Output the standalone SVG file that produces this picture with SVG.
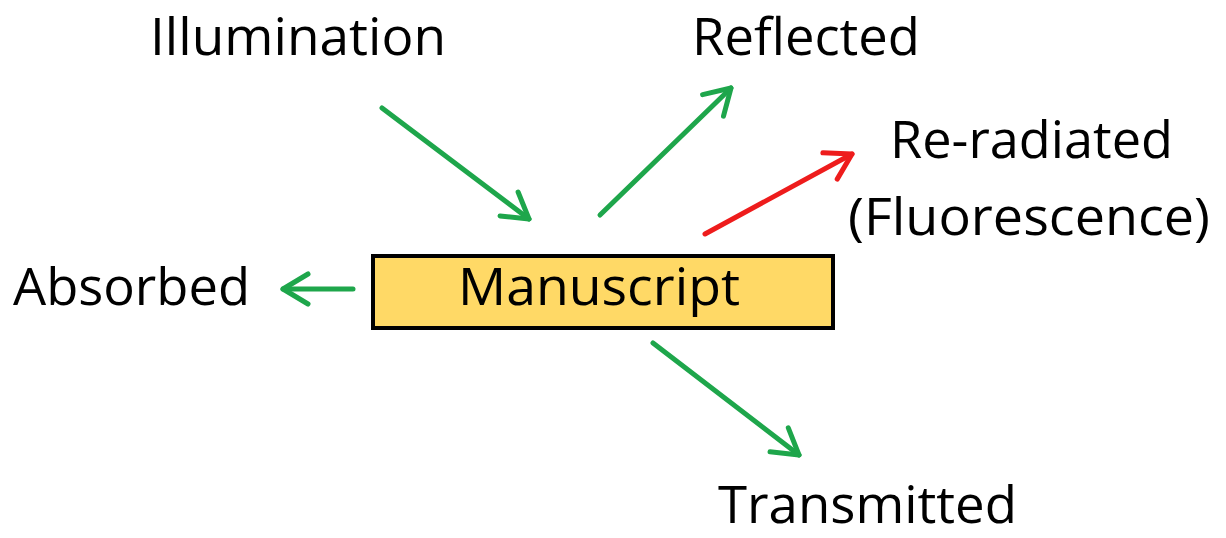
<svg xmlns="http://www.w3.org/2000/svg" width="1226" height="538" viewBox="0 0 1226 538">
  <style>
    .lbl { font-family: "Open Sans", "Noto Sans", "Liberation Sans", sans-serif; font-size: 51px; fill: #000; }
    .g { stroke: #1ea64b; stroke-width: 5; fill: none; stroke-linecap: round; }
    .r { stroke: #ee1c1c; stroke-width: 5; fill: none; stroke-linecap: round; }
  </style>
  <defs>
    <marker id="ag" markerUnits="userSpaceOnUse" markerWidth="60" markerHeight="60" refX="0" refY="0" viewBox="-40 -30 60 60" orient="auto" overflow="visible">
      <path d="M-25,-15 L0,0 L-25,15" fill="none" stroke="#1ea64b" stroke-width="5" stroke-linecap="round" stroke-linejoin="round"/>
    </marker>
    <marker id="ar" markerUnits="userSpaceOnUse" markerWidth="60" markerHeight="60" refX="0" refY="0" viewBox="-40 -30 60 60" orient="auto" overflow="visible">
      <path d="M-25,-15 L0,0 L-25,15" fill="none" stroke="#ee1c1c" stroke-width="5" stroke-linecap="round" stroke-linejoin="round"/>
    </marker>
  </defs>
  <rect width="1226" height="538" fill="#ffffff"/>

  <g id="connectors">
    <line class="g" x1="382" y1="108" x2="529" y2="219" marker-end="url(#ag)"/>
    <line class="g" x1="600" y1="215" x2="731" y2="88" marker-end="url(#ag)"/>
    <line class="r" x1="705" y1="234" x2="852" y2="154" marker-end="url(#ar)"/>
    <line class="g" x1="653" y1="343" x2="799" y2="455" marker-end="url(#ag)"/>
    <line class="g" x1="353" y1="289" x2="283" y2="289" marker-end="url(#ag)"/>
  </g>

  <g id="manuscript">
    <rect x="373" y="256" width="460" height="72" fill="#ffd966" stroke="#000" stroke-width="4"/>
    <text class="lbl" x="458" y="305" textLength="282" lengthAdjust="spacingAndGlyphs">Manuscript</text>
  </g>
  <g id="illumination">
    <text class="lbl" x="150" y="55" textLength="296" lengthAdjust="spacingAndGlyphs">Illumination</text>
  </g>
  <g id="reflected">
    <text class="lbl" x="692" y="55" textLength="228" lengthAdjust="spacingAndGlyphs">Reflected</text>
  </g>
  <g id="reradiated">
    <text class="lbl" x="890" y="158" textLength="283" lengthAdjust="spacingAndGlyphs">Re-radiated</text>
    <text class="lbl" x="848" y="235" textLength="362" lengthAdjust="spacingAndGlyphs">(Fluorescence)</text>
  </g>
  <g id="absorbed">
    <text class="lbl" x="13" y="305" textLength="237" lengthAdjust="spacingAndGlyphs">Absorbed</text>
  </g>
  <g id="transmitted">
    <text class="lbl" x="718" y="523" textLength="299" lengthAdjust="spacingAndGlyphs">Transmitted</text>
  </g>
</svg>
